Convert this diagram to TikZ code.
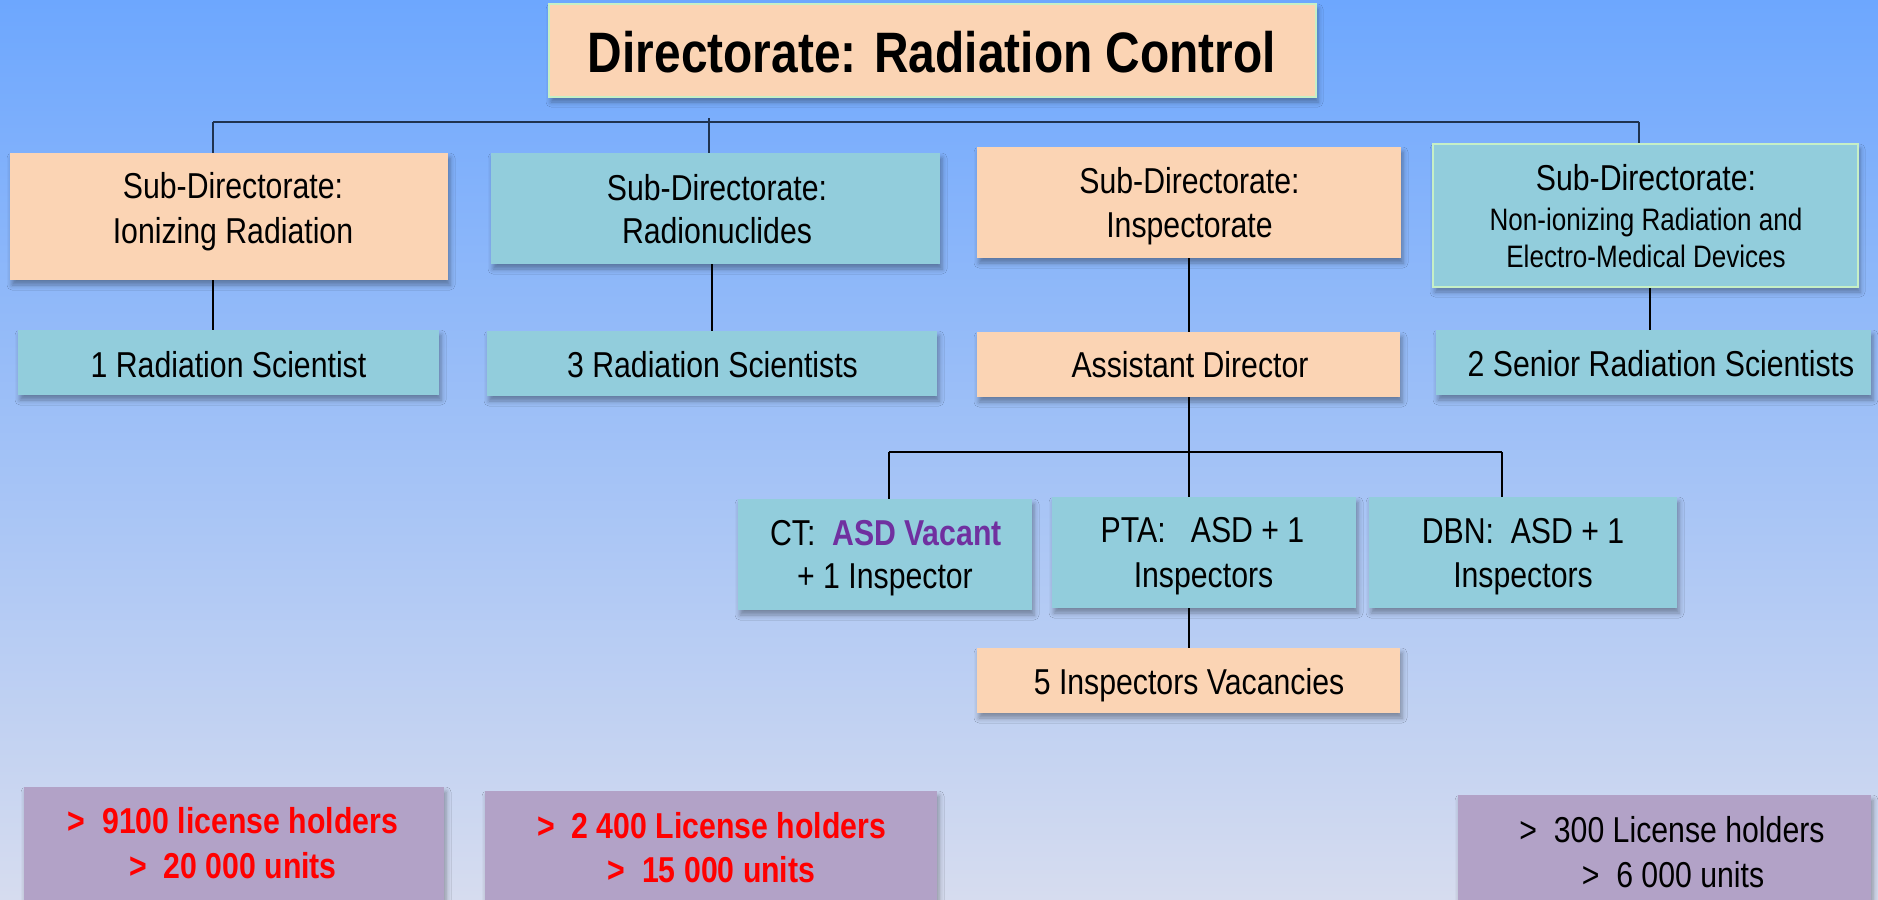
\documentclass[tikz,border=0pt]{standalone}
\usepackage{fontspec}
\setmainfont{Liberation Sans}[FakeStretch=0.84]
\usetikzlibrary{shadows.blur}
\definecolor{peach}{HTML}{FBD4B4}
\definecolor{teal}{HTML}{92CDDC}
\definecolor{lilac}{HTML}{B2A2C7}
\definecolor{bordergreen}{HTML}{C6EFC6}
\definecolor{asdpurple}{HTML}{7030A0}
\definecolor{navyline}{HTML}{1F3350}
\definecolor{bgtop}{HTML}{6DA7FE}
\definecolor{bgmid}{HTML}{A0C7F5}
\definecolor{bgbot}{HTML}{D6DCEF}
\newcommand\myfn{\fontsize{36}{43}\selectfont}
\newcommand\myfbig{\fontsize{57}{64}\selectfont\bfseries}
\newcommand\myfsm{\fontsize{31}{37}\selectfont}
\tikzset{
  box/.style={rectangle, inner sep=0pt, draw=none,
    blur shadow={shadow xshift=2pt, shadow yshift=-5pt, shadow blur radius=5pt, shadow opacity=35}},
  peachbox/.style={box, fill=peach},
  tealbox/.style={box, fill=teal},
  lilacbox/.style={box, fill=lilac},
  greenedge/.style={draw=bordergreen, line width=2pt},
  txt/.style={anchor=base, inner sep=0pt, font=\myfn},
  redtxt/.style={txt, font=\myfn\bfseries, text=red},
  conn/.style={draw=black, line width=1.5pt},
  topbus/.style={draw=navyline, line width=2.2pt}
}
\begin{document}
\begin{tikzpicture}[x=1pt,y=-1pt]
\useasboundingbox (0,0) rectangle (1878,899);
\shade[top color=bgtop, middle color=bgmid, bottom color=bgbot] (0,0) rectangle (1878,899);

% boxes
\node[peachbox, greenedge, minimum width=767pt, minimum height=93pt] (title) at (932.5,50.5) {};
\node[peachbox, minimum width=438pt, minimum height=127pt] (sub1) at (229,216.5) {};
\node[tealbox, minimum width=449pt, minimum height=111pt] (sub2) at (715.5,208.5) {};
\node[peachbox, minimum width=424pt, minimum height=111pt] (sub3) at (1189,202.5) {};
\node[tealbox, greenedge, minimum width=425pt, minimum height=143pt] (sub4) at (1645.5,215.5) {};
\node[tealbox, minimum width=421pt, minimum height=65pt] (rs1) at (228.5,362.5) {};
\node[tealbox, minimum width=450pt, minimum height=65pt] (rs3) at (712,363.5) {};
\node[peachbox, minimum width=423pt, minimum height=65pt] (ad) at (1188.5,364.5) {};
\node[tealbox, minimum width=435pt, minimum height=65pt] (srs) at (1653.5,362.5) {};
\node[tealbox, minimum width=294pt, minimum height=111pt] (ct) at (885,554.5) {};
\node[tealbox, minimum width=304pt, minimum height=111pt] (pta) at (1204,552.5) {};
\node[tealbox, minimum width=308pt, minimum height=111pt] (dbn) at (1523,552.5) {};
\node[peachbox, minimum width=423pt, minimum height=65pt] (vac) at (1188.5,680.5) {};
\node[lilacbox, minimum width=420pt, minimum height=120pt] (lh1) at (234,847) {};
\node[lilacbox, minimum width=452pt, minimum height=116pt] (lh2) at (711,849) {};
\node[lilacbox, minimum width=413pt, minimum height=112pt] (lh3) at (1664.5,851) {};

% connectors
\coordinate (busL) at (213,122);
\coordinate (busM) at (709,118);
\coordinate (busR) at (1639,122);
\draw[topbus] (busL) -- (busR);
\draw[topbus] (busL) -- (busL |- sub1.north);
\draw[topbus, line width=1.5pt] (busM) -- (busM |- sub2.north);
\draw[topbus, line width=1.5pt] (busR) -- (busR |- sub4.north);

\coordinate (c1) at (213,0);
\coordinate (c2) at (712,0);
\coordinate (c3) at (1189,0);
\coordinate (c4) at (1650,0);
\draw[conn] (c1 |- sub1.south) -- (c1 |- rs1.north);
\draw[conn] (c2 |- sub2.south) -- (c2 |- rs3.north);
\draw[conn] (c3 |- sub3.south) -- (c3 |- ad.north);
\draw[conn] (c4 |- sub4.south) -- (c4 |- srs.north);
\draw[conn] (c3 |- ad.south) -- (c3 |- pta.north);
\draw[conn] (c3 |- pta.south) -- (c3 |- vac.north);
\coordinate (bus2L) at (889,452);
\coordinate (bus2R) at (1502,452);
\draw[conn] (bus2L) -- (bus2R);
\draw[conn] (bus2L) -- (bus2L |- ct.north);
\draw[conn] (bus2R) -- (bus2R |- dbn.north);

% texts
\node[txt, font=\myfbig] (title-t) at (932,72) {Directorate: Radiation Control};
\node[txt] (sub1-a) at (233,198) {Sub-Directorate:};
\node[txt] (sub1-b) at (233,243) {Ionizing Radiation};
\node[txt] (sub2-a) at (717,200) {Sub-Directorate:};
\node[txt] (sub2-b) at (717,243) {Radionuclides};
\node[txt] (sub3-a) at (1189.5,193) {Sub-Directorate:};
\node[txt] (sub3-b) at (1189.5,237) {Inspectorate};
\node[txt] (sub4-a) at (1646,190) {Sub-Directorate:};
\node[txt, font=\myfsm] (sub4-b) at (1646,230) {Non-ionizing Radiation and};
\node[txt, font=\myfsm] (sub4-c) at (1646,267) {Electro-Medical Devices};
\node[txt] (rs1-t) at (228.5,377) {1 Radiation Scientist};
\node[txt] (rs3-t) at (712.5,377) {3 Radiation Scientists};
\node[txt] (ad-t) at (1190,377) {Assistant Director};
\node[txt] (srs-t) at (1661,376) {2 Senior Radiation Scientists};
\node[txt] (ct-a) at (886,545) {CT:~~\textcolor{asdpurple}{\bfseries ASD Vacant}};
\node[txt] (ct-b) at (885,588) {+ 1 Inspector};
\node[txt] (pta-a) at (1202.5,542) {PTA:~~~ASD + 1};
\node[txt] (pta-b) at (1203.5,587) {Inspectors};
\node[txt] (dbn-a) at (1523,543) {DBN:~~ASD + 1};
\node[txt] (dbn-b) at (1523,587) {Inspectors};
\node[txt] (vac-t) at (1189,694) {5 Inspectors Vacancies};
\node[redtxt] (lh1-a) at (233,833) {>~~9100 license holders};
\node[redtxt] (lh1-b) at (233,878) {>~~20 000 units};
\node[redtxt] (lh2-a) at (711.5,838) {>~~2 400 License holders};
\node[redtxt] (lh2-b) at (711.5,882) {>~~15 000 units};
\node[txt] (lh3-a) at (1672,842) {>~~300 License holders};
\node[txt] (lh3-b) at (1673,887) {>~~6 000 units};
\end{tikzpicture}
\end{document}
